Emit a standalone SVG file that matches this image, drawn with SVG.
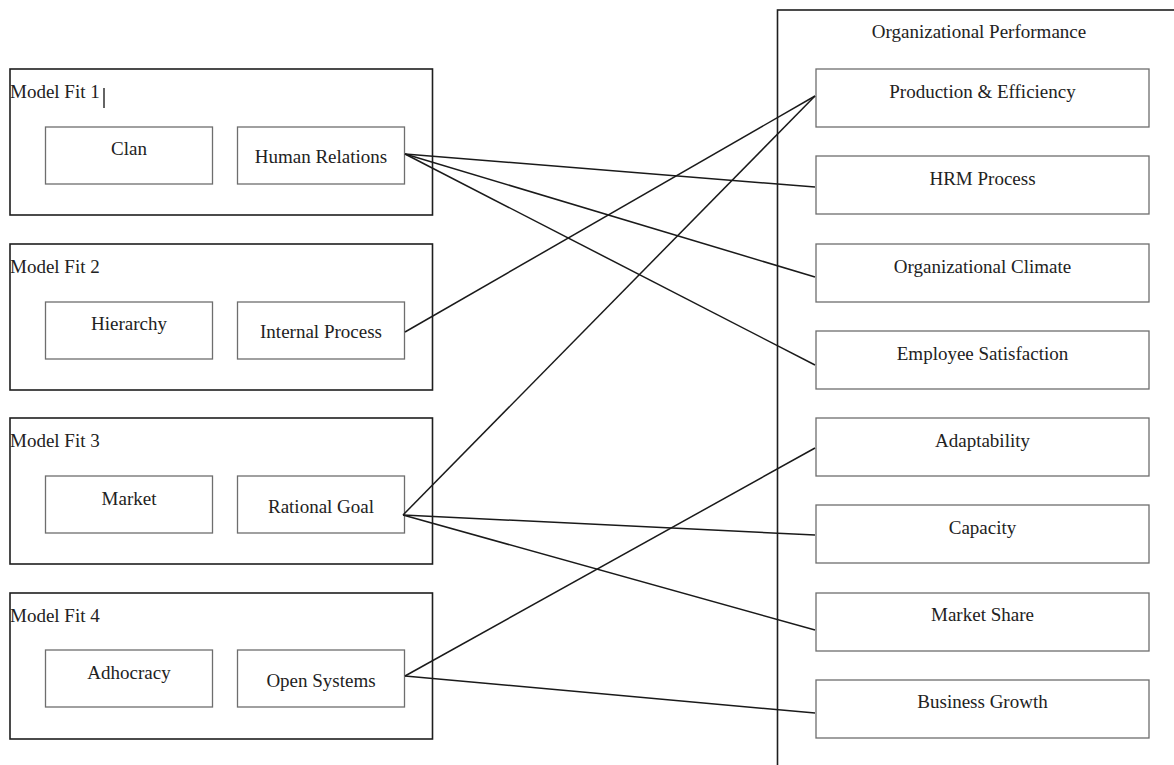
<svg xmlns="http://www.w3.org/2000/svg" width="1174" height="765" viewBox="0 0 1174 765">
<style>
.outer{fill:none;stroke:#1e1e1e;stroke-width:1.6}
.inner{fill:#fff;stroke:#6e6e6e;stroke-width:1.3}
.t{font-family:"Liberation Serif","Times New Roman",serif;font-size:19px;fill:#222}
.c{text-anchor:middle}
.conn line{stroke:#1a1a1a;stroke-width:1.5}
</style>
<rect width="1174" height="765" fill="#fff"/>
<g id="org-performance">
<rect class="outer" x="777.5" y="10" width="420" height="780"/>
<text class="t c" x="979" y="38">Organizational Performance</text>
</g>
<g id="model-fit-1">
<rect class="outer" x="10" y="69" width="422.5" height="146"/>
<text class="t" x="10" y="98">Model Fit 1</text>
<line x1="104" y1="88" x2="104" y2="108" stroke="#111" stroke-width="1.3"/>
</g>
<g id="model-fit-2">
<rect class="outer" x="10" y="244" width="422.5" height="146"/>
<text class="t" x="10" y="273">Model Fit 2</text>
</g>
<g id="model-fit-3">
<rect class="outer" x="10" y="418" width="422.5" height="146"/>
<text class="t" x="10" y="447">Model Fit 3</text>
</g>
<g id="model-fit-4">
<rect class="outer" x="10" y="593" width="422.5" height="146"/>
<text class="t" x="10" y="622">Model Fit 4</text>
</g>
<g id="clan"><rect class="inner" x="45.5" y="127" width="167" height="57"/><text class="t c" x="129" y="155">Clan</text></g>
<g id="human-relations"><rect class="inner" x="237.5" y="127" width="167" height="57"/><text class="t c" x="321" y="163">Human Relations</text></g>
<g id="hierarchy"><rect class="inner" x="45.5" y="302" width="167" height="57"/><text class="t c" x="129" y="330">Hierarchy</text></g>
<g id="internal-process"><rect class="inner" x="237.5" y="302" width="167" height="57"/><text class="t c" x="321" y="338">Internal Process</text></g>
<g id="market"><rect class="inner" x="45.5" y="476" width="167" height="57"/><text class="t c" x="129" y="505">Market</text></g>
<g id="rational-goal"><rect class="inner" x="237.5" y="476" width="167" height="57"/><text class="t c" x="321" y="513">Rational Goal</text></g>
<g id="adhocracy"><rect class="inner" x="45.5" y="650" width="167" height="57"/><text class="t c" x="129" y="679">Adhocracy</text></g>
<g id="open-systems"><rect class="inner" x="237.5" y="650" width="167" height="57"/><text class="t c" x="321" y="687">Open Systems</text></g>
<g id="production-efficiency"><rect class="inner" x="816" y="69" width="333" height="58"/><text class="t c" x="982.5" y="98">Production &amp; Efficiency</text></g>
<g id="hrm-process"><rect class="inner" x="816" y="156" width="333" height="58"/><text class="t c" x="982.5" y="185">HRM Process</text></g>
<g id="org-climate"><rect class="inner" x="816" y="244" width="333" height="58"/><text class="t c" x="982.5" y="273">Organizational Climate</text></g>
<g id="employee-satisfaction"><rect class="inner" x="816" y="331" width="333" height="58"/><text class="t c" x="982.5" y="360">Employee Satisfaction</text></g>
<g id="adaptability"><rect class="inner" x="816" y="418" width="333" height="58"/><text class="t c" x="982.5" y="447">Adaptability</text></g>
<g id="capacity"><rect class="inner" x="816" y="505" width="333" height="58"/><text class="t c" x="982.5" y="534">Capacity</text></g>
<g id="market-share"><rect class="inner" x="816" y="593" width="333" height="58"/><text class="t c" x="982.5" y="621">Market Share</text></g>
<g id="business-growth"><rect class="inner" x="816" y="680" width="333" height="58"/><text class="t c" x="982.5" y="708">Business Growth</text></g>
<g id="connectors" class="conn">
<line x1="405" y1="154" x2="815" y2="187"/>
<line x1="405" y1="154" x2="815" y2="277"/>
<line x1="405" y1="154" x2="815" y2="365"/>
<line x1="405" y1="332" x2="815" y2="96"/>
<line x1="403" y1="515" x2="815" y2="96"/>
<line x1="403" y1="515" x2="815" y2="535"/>
<line x1="403" y1="515" x2="815" y2="630"/>
<line x1="405" y1="676" x2="815" y2="448"/>
<line x1="405" y1="676" x2="815" y2="713"/>
</g>
</svg>
